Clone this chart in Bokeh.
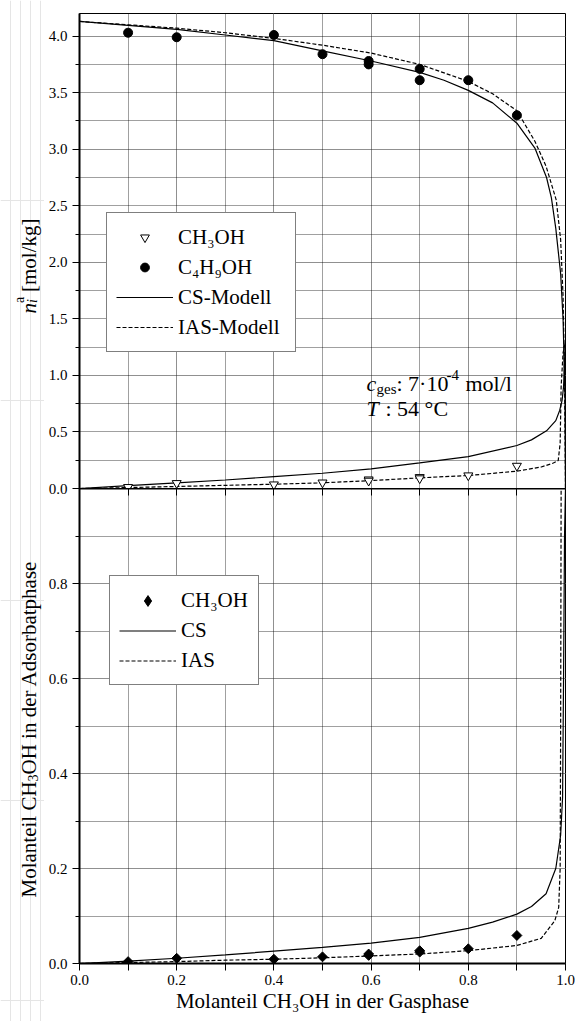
import numpy as np
from bokeh.plotting import figure
from bokeh.layouts import column, row
from bokeh.models import (Range1d, LinearAxis, FixedTicker, Grid, Legend, LegendItem,
                          Label, PrintfTickFormatter)
from bokeh.embed import file_html
from bokeh.resources import INLINE

FONT = "Liberation Serif"

# ---- measured data (gas-phase mole fraction of methanol) ----
x_exp = [0.1, 0.2, 0.4, 0.5, 0.595, 0.595, 0.7, 0.7, 0.8, 0.9]
n_ch3oh = [0.012, 0.047, 0.035, 0.052, 0.079, 0.068, 0.100, 0.089, 0.115, 0.200]      # mol/kg
n_c4h9oh = [4.03, 3.99, 4.01, 3.84, 3.78, 3.75, 3.71, 3.61, 3.61, 3.30]              # mol/kg
xads_ch3oh = [0.004, 0.011, 0.009, 0.014, 0.020, 0.017, 0.027, 0.024, 0.031, 0.059]  # adsorbed phase

# ---- CS model, loadings ----
x_cs_bu = [0, 0.1, 0.2, 0.3, 0.4, 0.5, 0.6, 0.7, 0.75, 0.8, 0.85, 0.9, 0.937, 0.961,
           0.971, 0.98, 0.99, 0.995, 0.999, 1.0]
n_cs_bu = [4.13, 4.095, 4.06, 4.01, 3.96, 3.87, 3.78, 3.68, 3.61, 3.52, 3.41, 3.23, 3.01,
           2.75, 2.57, 2.3, 1.9, 1.5, 0.8, 0.0]
x_cs_me = [0, 0.1, 0.2, 0.3, 0.4, 0.5, 0.6, 0.7, 0.8, 0.9, 0.93, 0.961, 0.98, 0.988,
           0.993, 0.996, 0.998, 1.0]
n_cs_me = [0, 0.025, 0.05, 0.075, 0.105, 0.135, 0.174, 0.227, 0.282, 0.38, 0.43, 0.51,
           0.6, 0.69, 0.78, 0.9, 1.1, 1.3]

# ---- IAS model, loadings ----
x_ias_bu = [0, 0.1, 0.2, 0.3, 0.4, 0.5, 0.6, 0.7, 0.8, 0.85, 0.9, 0.937, 0.96, 0.981,
            0.99, 0.995, 0.998, 1.0]
n_ias_bu = [4.13, 4.10, 4.07, 4.03, 3.98, 3.92, 3.85, 3.75, 3.60, 3.49, 3.34, 3.07, 2.85,
            2.55, 2.2, 1.7, 1.0, 0.0]
x_ias_me = [0, 0.1, 0.2, 0.3, 0.4, 0.5, 0.6, 0.7, 0.8, 0.9, 0.95, 0.975, 0.985, 0.989,
            0.991, 0.995, 1.0]
n_ias_me = [0, 0.008, 0.018, 0.028, 0.038, 0.05, 0.07, 0.094, 0.115, 0.153, 0.19, 0.225,
            0.247, 0.4, 0.9, 1.2, 1.3]

# ---- model curves, adsorbed-phase mole fraction of methanol ----
x_cs_ads = [0, 0.1, 0.2, 0.3, 0.4, 0.5, 0.6, 0.7, 0.8, 0.85, 0.9, 0.93, 0.96, 0.98, 0.99,
            0.994, 0.996, 0.998, 1.0]
y_cs_ads = [0, 0.005, 0.011, 0.018, 0.026, 0.034, 0.043, 0.055, 0.074, 0.087, 0.104, 0.12,
            0.147, 0.2, 0.27, 0.35, 0.6, 0.9, 1.0]
x_ias_ads = [0, 0.1, 0.2, 0.3, 0.4, 0.5, 0.6, 0.7, 0.8, 0.9, 0.95, 0.978, 0.986, 0.989,
             0.99, 0.991]
y_ias_ads = [0, 0.002, 0.004, 0.007, 0.009, 0.012, 0.016, 0.02, 0.027, 0.038, 0.053, 0.09,
             0.118, 0.2, 0.5, 1.0]

# ---- tick positions ----
x_grid = [0.1, 0.2, 0.3, 0.4, 0.5, 0.6, 0.7, 0.8, 0.9]
top_major = [0.0, 0.5, 1.0, 1.5, 2.0, 2.5, 3.0, 3.5, 4.0]
top_minor = [0.25, 0.75, 1.25, 1.75, 2.25, 2.75, 3.25, 3.75]
bot_major = [0.0, 0.2, 0.4, 0.6, 0.8]
bot_minor = [0.1, 0.3, 0.5, 0.7, 0.9]

DASH = "4 2"
GRID = dict(grid_line_color="black", grid_line_dash="1 1", grid_line_alpha=0.75, grid_line_width=1)
OVERLAP = 10        # lower panel is pulled up under the upper panel's bottom border
TITLE_W = 44        # strip on the left carrying the rotated axis titles
PAGE_H = 1021


def make_fig(y_end, top_border, bottom_border):
    return figure(frame_width=486, frame_height=475, x_range=Range1d(0, 1),
                  y_range=Range1d(0, y_end), x_axis_location=None, y_axis_location=None,
                  toolbar_location=None, output_backend="svg",
                  min_border_left=79 - TITLE_W, min_border_right=10, min_border_top=top_border,
                  min_border_bottom=bottom_border, outline_line_color="black",
                  outline_line_width=1, background_fill_color="white",
                  border_fill_color="white")


def axis_style(ax):
    ax.axis_line_width = 2
    ax.axis_line_color = "black"
    ax.major_tick_line_color = "black"
    ax.minor_tick_line_color = "black"
    ax.major_label_text_font = FONT
    ax.major_label_text_font_size = "15px"
    ax.major_label_text_color = "black"
    ax.axis_label_text_font = FONT
    ax.axis_label_text_font_size = "21px"
    ax.axis_label_text_font_style = "normal"
    ax.axis_label_text_color = "black"
    ax.formatter = PrintfTickFormatter(format="%.1f")


def piece(fig, text, x, y, size, style="normal", angle=0.0, units="screen"):
    fig.add_layout(Label(x=x, y=y, x_units=units, y_units=units, text=text, angle=angle,
                         text_font=FONT, text_font_size=f"{size}px",
                         text_font_style=style, text_align="left",
                         text_baseline="alphabetic", text_color="black"))


def style_legend(leg, glyph_h):
    leg.glyph_width = 57
    leg.glyph_height = glyph_h
    leg.label_height = 30
    leg.spacing = 0
    leg.padding = 9
    leg.margin = 0
    leg.label_standoff = 5
    leg.border_line_color = "black"
    leg.border_line_width = 1
    leg.background_fill_color = "white"
    leg.background_fill_alpha = 1.0
    leg.inactive_fill_alpha = 0.0
    leg.label_text_font = FONT
    leg.label_text_font_size = "21px"
    leg.label_text_color = "black"


# ================= upper panel: loadings =================
p1 = make_fig(4.2, 13, OVERLAP)
p1.add_layout(Grid(dimension=0, ticker=FixedTicker(ticks=x_grid), **GRID))
p1.add_layout(Grid(dimension=1, ticker=FixedTicker(ticks=top_major[1:] + top_minor), **GRID))

ay1 = LinearAxis(ticker=FixedTicker(ticks=top_major, minor_ticks=top_minor),
                 major_tick_out=7, major_tick_in=0, minor_tick_out=4, minor_tick_in=0,
                 major_label_standoff=5)
axis_style(ay1)
p1.add_layout(ay1, "left")

r_cs_bu = p1.line(x_cs_bu, n_cs_bu, line_color="black", line_width=1.2)
r_cs_me = p1.line(x_cs_me, n_cs_me, line_color="black", line_width=1.2)
r_ias_bu = p1.line(x_ias_bu, n_ias_bu, line_color="black", line_width=1.2, line_dash=DASH)
r_ias_me = p1.line(x_ias_me, n_ias_me, line_color="black", line_width=1.2, line_dash=DASH)
r_me = p1.scatter(x_exp, n_ch3oh, marker="inverted_triangle", size=9,
                  fill_color="white", line_color="black", line_width=1)
r_bu = p1.scatter(x_exp, n_c4h9oh, marker="circle", size=9,
                  fill_color="black", line_color="black")

leg1 = Legend(items=[LegendItem(label="CH₃OH", renderers=[r_me]),
                     LegendItem(label="C₄H₉OH", renderers=[r_bu]),
                     LegendItem(label="CS-Modell", renderers=[r_cs_bu]),
                     LegendItem(label="IAS-Modell", renderers=[r_ias_bu])],
              location=(27, 136), label_width=108)
style_legend(leg1, 22)
p1.add_layout(leg1)

# measurement conditions
piece(p1, "c", 287, 105, 22, "italic")
piece(p1, "ges", 297, 100, 15)
piece(p1, ": 7·10", 317, 105, 22)
piece(p1, "-4", 367, 114, 15)
piece(p1, "mol/l", 386, 105, 22)
piece(p1, "T", 287, 80, 22, "italic")
piece(p1, ": 54 °C", 306, 80, 22)

# ================= lower panel: adsorbed-phase composition =================
p2 = make_fig(1.0, 0, 60)
p2.margin = (-OVERLAP, 0, 0, 0)
p2.background_fill_alpha = 0
p2.border_fill_alpha = 0
p2.add_layout(Grid(dimension=0, ticker=FixedTicker(ticks=x_grid), **GRID))
p2.add_layout(Grid(dimension=1, ticker=FixedTicker(ticks=bot_major[1:] + bot_minor), **GRID))

# ticks of the shared boundary, pointing down into the lower panel
ax_top = LinearAxis(ticker=FixedTicker(ticks=x_grid), major_tick_in=7, major_tick_out=0,
                    major_label_standoff=0,
                    major_label_overrides={t: "" for t in x_grid})
axis_style(ax_top)
ax_top.major_label_text_font_size = "0px"
p2.add_layout(ax_top, "above")

ax2 = LinearAxis(ticker=FixedTicker(ticks=bot_major + [1.0], minor_ticks=bot_minor),
                 major_tick_out=7, major_tick_in=0, minor_tick_out=7, minor_tick_in=0,
                 major_label_standoff=4, axis_label="Molanteil CH₃OH in der Gasphase",
                 axis_label_standoff=1)
axis_style(ax2)
p2.add_layout(ax2, "below")

ay2 = LinearAxis(ticker=FixedTicker(ticks=bot_major, minor_ticks=bot_minor),
                 major_tick_out=7, major_tick_in=0, minor_tick_out=4, minor_tick_in=0,
                 major_label_standoff=5)
axis_style(ay2)
p2.add_layout(ay2, "left")

r2_cs = p2.line(x_cs_ads, y_cs_ads, line_color="black", line_width=1.2)
r2_ias = p2.line(x_ias_ads, y_ias_ads, line_color="black", line_width=1.2, line_dash=DASH)
r2_me = p2.scatter(x_exp, xads_ch3oh, marker="square", angle=np.pi / 4, size=7,
                   fill_color="black", line_color="black")
# hidden twin of the points, used only for the diamond legend key
r2_key = p2.scatter(x_exp, xads_ch3oh, marker="diamond", fill_color="black",
                    line_color="black", visible=False)

leg2 = Legend(items=[LegendItem(label="CH₃OH", renderers=[r2_key]),
                     LegendItem(label="CS", renderers=[r2_cs]),
                     LegendItem(label="IAS", renderers=[r2_ias])],
              location=(30, 278), label_width=68)
style_legend(leg2, 27)
p2.add_layout(leg2)

# ================= left strip with the rotated axis titles =================
pt = figure(frame_width=TITLE_W, frame_height=PAGE_H, x_range=Range1d(0, TITLE_W),
            y_range=Range1d(PAGE_H, 0), x_axis_location=None, y_axis_location=None,
            toolbar_location=None, output_backend="svg", min_border=0,
            outline_line_color=None, background_fill_color="white",
            border_fill_color="white")
UP = np.pi / 2
# n_i^a [mol/kg]
piece(pt, "n", 28, 313, 21, "italic", UP, "data")
piece(pt, "i", 32, 302.5, 14, "italic", UP, "data")
piece(pt, "a", 19, 302.5, 14, "normal", UP, "data")
piece(pt, "[mol/kg]", 28, 291.5, 21, "normal", UP, "data")
# Molanteil CH3OH in der Adsorbatphase
piece(pt, "Molanteil CH", 28, 897, 21, "normal", UP, "data")
piece(pt, "3", 32, 781, 14, "normal", UP, "data")
piece(pt, "OH in der Adsorbatphase", 28, 774, 21, "normal", UP, "data")

layout = row(pt, column(p1, p2, spacing=0), spacing=0)
open("out.html", "w").write(file_html(layout, INLINE))
